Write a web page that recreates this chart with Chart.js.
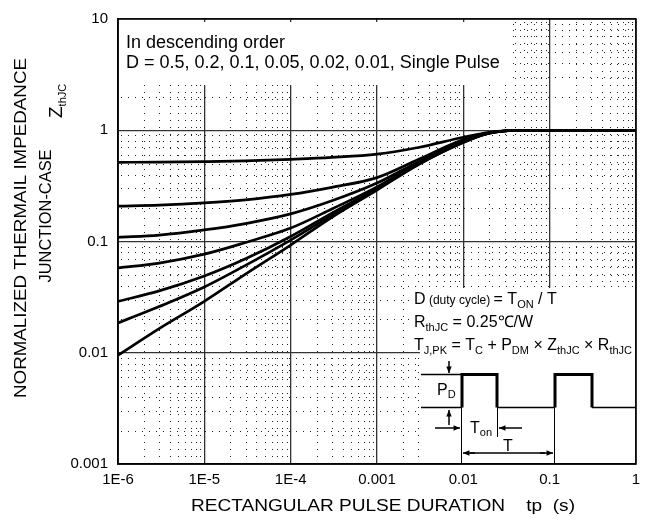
<!DOCTYPE html>
<html lang="en">
<head>
  <meta charset="UTF-8">
  <script src="https://cdn.jsdelivr.net/npm/chart.js"></script>
  <title>Normalized Thermal Impedance</title>
  <style>
    body { margin: 0; background: #fff; }
    #wrap { width: 651px; height: 520px; }
  </style>
</head>
<body>
<div id="wrap"><canvas id="zthChart" width="651" height="520"></canvas></div>

<script>
// pulse duration (s)
const pulseTimes = [1e-6, 3e-6, 1e-5, 3e-5, 1e-4, 3e-4, 1e-3, 3e-3, 1e-2, 2e-2, 4e-2, 0.1, 1];

// normalized Zth for each duty cycle
const zD50    = [0.515, 0.517, 0.522, 0.530, 0.548, 0.570, 0.610, 0.700, 0.865, 0.960, 0.995, 1.0, 1.0];
const zD20    = [0.208, 0.212, 0.222, 0.237, 0.265, 0.307, 0.375, 0.545, 0.825, 0.950, 0.995, 1.0, 1.0];
const zD10    = [0.109, 0.114, 0.127, 0.145, 0.177, 0.232, 0.335, 0.520, 0.805, 0.950, 0.995, 1.0, 1.0];
const zD05    = [0.058, 0.064, 0.077, 0.098, 0.132, 0.196, 0.310, 0.505, 0.795, 0.945, 0.995, 1.0, 1.0];
const zD02    = [0.029, 0.036, 0.049, 0.070, 0.111, 0.180, 0.300, 0.497, 0.785, 0.940, 0.995, 1.0, 1.0];
const zD01    = [0.0185, 0.026, 0.039, 0.061, 0.103, 0.172, 0.295, 0.493, 0.780, 0.940, 0.995, 1.0, 1.0];
const zSingle = [0.0095, 0.0165, 0.029, 0.051, 0.093, 0.165, 0.290, 0.490, 0.775, 0.940, 0.995, 1.0, 1.0];

const xTickValues = [1e-6, 1e-5, 1e-4, 1e-3, 1e-2, 0.1, 1];
const xTickLabels = ['1E-6', '1E-5', '1E-4', '0.001', '0.01', '0.1', '1'];
const yTickValues = [0.001, 0.01, 0.1, 1, 10];
const yTickLabels = ['0.001', '0.01', '0.1', '1', '10'];

const FONT = '"Liberation Sans", Arial, sans-serif';

function toPoints(ys) {
  return pulseTimes.map((t, i) => ({ x: t, y: ys[i] }));
}

// draws text pieces one after another, subscripts get a smaller font and drop down
function richText(ctx, x, y, parts) {
  ctx.textBaseline = 'alphabetic';
  ctx.textAlign = 'left';
  for (const p of parts) {
    ctx.font = p[1] + 'px ' + FONT;
    ctx.fillText(p[0], x, y + (p[2] || 0));
    x += ctx.measureText(p[0]).width;
  }
  return x;
}

// text stretched along its baseline to a given width (the original uses a wide face)
function wideText(ctx, text, cx, baseY, width, size, angle) {
  ctx.save();
  ctx.translate(cx, baseY);
  if (angle) ctx.rotate(angle);
  ctx.font = size + 'px ' + FONT;
  const w = ctx.measureText(text).width;
  ctx.scale(width / w, 1);
  ctx.textAlign = 'center';
  ctx.textBaseline = 'alphabetic';
  ctx.fillText(text, 0, 0);
  ctx.restore();
}

function arrow(ctx, x1, y1, x2, y2) {
  ctx.beginPath();
  ctx.moveTo(x1, y1);
  ctx.lineTo(x2, y2);
  ctx.stroke();
  const a = Math.atan2(y2 - y1, x2 - x1);
  ctx.beginPath();
  ctx.moveTo(x2, y2);
  ctx.lineTo(x2 - 7 * Math.cos(a - 0.4), y2 - 7 * Math.sin(a - 0.4));
  ctx.lineTo(x2 - 7 * Math.cos(a + 0.4), y2 - 7 * Math.sin(a + 0.4));
  ctx.closePath();
  ctx.fill();
}

const decoPlugin = {
  id: 'deco',
  beforeDatasetsDraw(chart) {
    const { ctx, chartArea: ca, scales } = chart;
    const xs = scales.x, ys = scales.y;
    ctx.save();
    // dotted minor grid
    ctx.strokeStyle = '#222';
    ctx.lineWidth = 1;
    ctx.setLineDash([1, 6]);
    for (let e = -6; e < 0; e++) {
      for (let k = 2; k <= 9; k++) {
        const px = Math.round(xs.getPixelForValue(k * Math.pow(10, e))) + 0.5;
        ctx.beginPath(); ctx.moveTo(px, ca.top + 3); ctx.lineTo(px, ca.bottom); ctx.stroke();
      }
    }
    for (let e = -3; e < 1; e++) {
      for (let k = 2; k <= 9; k++) {
        const py = Math.round(ys.getPixelForValue(k * Math.pow(10, e))) + 0.5;
        ctx.beginPath(); ctx.moveTo(ca.left + 3, py); ctx.lineTo(ca.right, py); ctx.stroke();
      }
    }
    ctx.setLineDash([]);
    // blank areas behind the notes
    ctx.fillStyle = '#fff';
    ctx.fillRect(ca.left + 1, 22, 508 - ca.left, 63);
    ctx.fillRect(409, 288, ca.right - 410, 64);
    ctx.fillRect(420, 351, ca.right - 421, ca.bottom - 352);
    ctx.restore();
  },
  afterDatasetsDraw(chart) {
    const { ctx, chartArea: ca } = chart;
    ctx.save();
    ctx.fillStyle = '#000';
    ctx.strokeStyle = '#000';

    // legend note, top left
    richText(ctx, 126, 48, [['In descending order', 18]]);
    richText(ctx, 126, 68, [['D = 0.5, 0.2, 0.1, 0.05, 0.02, 0.01, Single Pulse', 18]]);

    // formulas, bottom right
    richText(ctx, 414, 304, [['D', 16], [' (duty cycle) ', 12], ['= T', 16], ['ON', 11, 4], [' / T', 16]]);
    richText(ctx, 414, 327, [['R', 16], ['thJC', 11, 4], [' = 0.25\u2103/W', 16]]);
    richText(ctx, 414, 350, [['T', 16], ['J,PK', 11, 4], [' = T', 16], ['C', 11, 4], [' + P', 16], ['DM', 11, 4],
      [' \u00d7 Z', 16], ['thJC', 11, 4], [' \u00d7 R', 16], ['thJC', 11, 4]]);

    // pulse train sketch
    ctx.lineWidth = 1.5;
    ctx.beginPath();
    ctx.moveTo(421, 407.5); ctx.lineTo(462, 407.5);
    ctx.moveTo(421, 374.5); ctx.lineTo(462, 374.5);
    ctx.moveTo(497, 407.5); ctx.lineTo(555, 407.5);
    ctx.moveTo(592, 407.5); ctx.lineTo(ca.right, 407.5);
    ctx.stroke();
    ctx.lineWidth = 3;
    ctx.beginPath();
    ctx.moveTo(462, 407.5); ctx.lineTo(462, 374.5); ctx.lineTo(497, 374.5); ctx.lineTo(497, 407.5);
    ctx.moveTo(555, 407.5); ctx.lineTo(555, 374.5); ctx.lineTo(592, 374.5); ctx.lineTo(592, 407.5);
    ctx.stroke();
    ctx.lineWidth = 1;
    ctx.beginPath();
    ctx.moveTo(461.5, 407); ctx.lineTo(461.5, ca.bottom);
    ctx.moveTo(554.5, 407); ctx.lineTo(554.5, ca.bottom);
    ctx.moveTo(497.5, 407); ctx.lineTo(497.5, 437);
    ctx.stroke();
    ctx.lineWidth = 1.5;
    arrow(ctx, 449, 361, 449, 373);
    arrow(ctx, 449, 425, 449, 410);
    arrow(ctx, 435, 428, 460, 428);
    arrow(ctx, 522, 428, 499, 428);
    arrow(ctx, 475, 453, 463, 453);
    arrow(ctx, 540, 453, 553, 453);
    ctx.beginPath(); ctx.moveTo(470, 453); ctx.lineTo(545, 453); ctx.stroke();
    richText(ctx, 437, 395, [['P', 16], ['D', 11, 3]]);
    richText(ctx, 470, 433, [['T', 16], ['on', 11, 3]]);
    richText(ctx, 503, 451, [['T', 16]]);

    // frame
    ctx.lineWidth = 1.5;
    ctx.strokeRect(ca.left, ca.top, ca.right - ca.left, ca.bottom - ca.top);
    ctx.restore();
  },
  afterDraw(chart) {
    const { ctx } = chart;
    ctx.save();
    ctx.fillStyle = '#000';
    // axis titles
    wideText(ctx, 'RECTANGULAR PULSE DURATION    tp  (s)', 383, 511, 384, 16, 0);
    wideText(ctx, 'NORMALIZED THERMAIL IMPEDANCE', 26, 228, 340, 16, -Math.PI / 2);
    wideText(ctx, 'JUNCTION-CASE', 51, 216, 133, 16, -Math.PI / 2);
    ctx.translate(62, 118);
    ctx.rotate(-Math.PI / 2);
    richText(ctx, 0, 0, [['Z', 19], ['thJC', 11, 4]]);
    ctx.restore();
  }
};

const lineStyle = { borderColor: '#000', borderWidth: 2.7, pointRadius: 0, fill: false, cubicInterpolationMode: 'monotone' };

new Chart(document.getElementById('zthChart'), {
  type: 'line',
  data: {
    datasets: [
      { label: 'D=0.5', data: toPoints(zD50), ...lineStyle },
      { label: 'D=0.2', data: toPoints(zD20), ...lineStyle },
      { label: 'D=0.1', data: toPoints(zD10), ...lineStyle },
      { label: 'D=0.05', data: toPoints(zD05), ...lineStyle },
      { label: 'D=0.02', data: toPoints(zD02), ...lineStyle },
      { label: 'D=0.01', data: toPoints(zD01), ...lineStyle },
      { label: 'Single Pulse', data: toPoints(zSingle), ...lineStyle }
    ]
  },
  options: {
    responsive: false,
    animation: false,
    layout: { padding: { top: 15, right: 15, left: 0, bottom: 0 } },
    plugins: { legend: { display: false }, tooltip: { enabled: false } },
    scales: {
      x: {
        type: 'logarithmic',
        min: 1e-6,
        max: 1,
        afterBuildTicks: (s) => { s.ticks = xTickValues.map(v => ({ value: v, major: true })); },
        afterFit: (s) => { s.height = 56; },
        ticks: {
          autoSkip: false,
          maxRotation: 0,
          padding: 7,
          color: '#000',
          font: { family: FONT, size: 15 },
          callback: (v) => { const i = xTickValues.indexOf(v); return i >= 0 ? xTickLabels[i] : ''; }
        },
        grid: { color: '#333', lineWidth: 1.3, drawTicks: false },
        border: { color: '#000', width: 1.5 }
      },
      y: {
        type: 'logarithmic',
        min: 0.001,
        max: 10,
        afterBuildTicks: (s) => { s.ticks = yTickValues.map(v => ({ value: v, major: true })); },
        afterFit: (s) => { s.width = 118; },
        ticks: {
          autoSkip: false,
          padding: 10,
          color: '#000',
          font: { family: FONT, size: 15 },
          callback: (v) => { const i = yTickValues.indexOf(v); return i >= 0 ? yTickLabels[i] : ''; }
        },
        grid: { color: '#333', lineWidth: 1.3, drawTicks: false },
        border: { color: '#000', width: 1.5 }
      }
    }
  },
  plugins: [decoPlugin]
});
</script>
</body>
</html>
